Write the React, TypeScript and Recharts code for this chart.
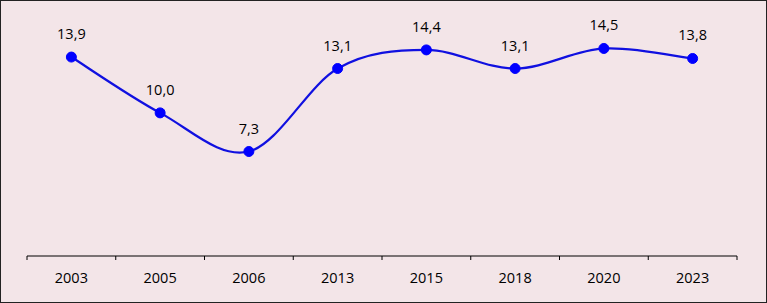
import { LineChart, Line, XAxis, YAxis, LabelList } from 'recharts'

const years = ['2003', '2005', '2006', '2013', '2015', '2018', '2020', '2023']
const rates = [13.9, 10.0, 7.3, 13.1, 14.4, 13.1, 14.5, 13.8]
const yDomain = [0, 16]

const data = years.map((year, i) => ({ year, rate: rates[i] }))

const W = 765
const H = 301
const M = { top: 26, right: 29, left: 26, bottom: 0 }
const HALF_BAND = (W - M.left - M.right) / years.length / 2

// Excel-like smoothed line (Catmull-Rom through the points)
const smoothCurve = (context: any) => {
  let pts: [number, number][] = []
  return {
    areaStart() {},
    areaEnd() {},
    lineStart() {
      pts = []
    },
    point(x: number, y: number) {
      pts.push([+x, +y])
    },
    lineEnd() {
      if (!pts.length) return
      context.moveTo(pts[0][0], pts[0][1])
      for (let i = 0; i < pts.length - 1; i++) {
        const p0 = pts[Math.max(i - 1, 0)]
        const p1 = pts[i]
        const p2 = pts[i + 1]
        const p3 = pts[Math.min(i + 2, pts.length - 1)]
        context.bezierCurveTo(
          p1[0] + (p2[0] - p0[0]) / 6,
          p1[1] + (p2[1] - p0[1]) / 6,
          p2[0] - (p3[0] - p1[0]) / 6,
          p2[1] - (p3[1] - p1[1]) / 6,
          p2[0],
          p2[1]
        )
      }
    },
  }
}

const YearTick = (props: any) => {
  const { x, y, payload, index } = props
  const last = index === years.length - 1
  return (
    <g>
      <line x1={x - HALF_BAND} y1={y} x2={x - HALF_BAND} y2={y + 4} stroke="#000" />
      {last && <line x1={x + HALF_BAND} y1={y} x2={x + HALF_BAND} y2={y + 4} stroke="#000" />}
      <text
        x={x}
        y={y + 27}
        textAnchor="middle"
        fontSize={14.5}
        fontFamily="'Open Sans', sans-serif"
        fill="#000"
      >
        {payload.value}
      </text>
    </g>
  )
}

export default function App() {
  return (
    <div
      style={{
        position: 'fixed',
        left: 0,
        top: 0,
        width: W,
        height: H,
        background: '#f3e5e8',
        border: '1px solid #222',
      }}
    >
      <LineChart width={W} height={H} data={data} margin={M}>
        <XAxis
          dataKey="year"
          height={46}
          stroke="#000"
          padding={{ left: HALF_BAND, right: HALF_BAND }}
          tickLine={false}
          tickSize={0}
          tickMargin={0}
          interval={0}
          tick={<YearTick />}
        />
        <YAxis hide domain={yDomain} />
        <Line
          dataKey="rate"
          type={smoothCurve as any}
          stroke="#1010e0"
          strokeWidth={2.25}
          dot={{ r: 5, fill: '#0000ff', stroke: '#0000ff', strokeWidth: 1 }}
          isAnimationActive={false}
        >
          <LabelList
            dataKey="rate"
            position="top"
            offset={18}
            fontSize={14.5}
            fontFamily="'Open Sans', sans-serif"
            fill="#000"
            formatter={(v: any) => Number(v).toFixed(1).replace('.', ',')}
          />
        </Line>
      </LineChart>
    </div>
  )
}
